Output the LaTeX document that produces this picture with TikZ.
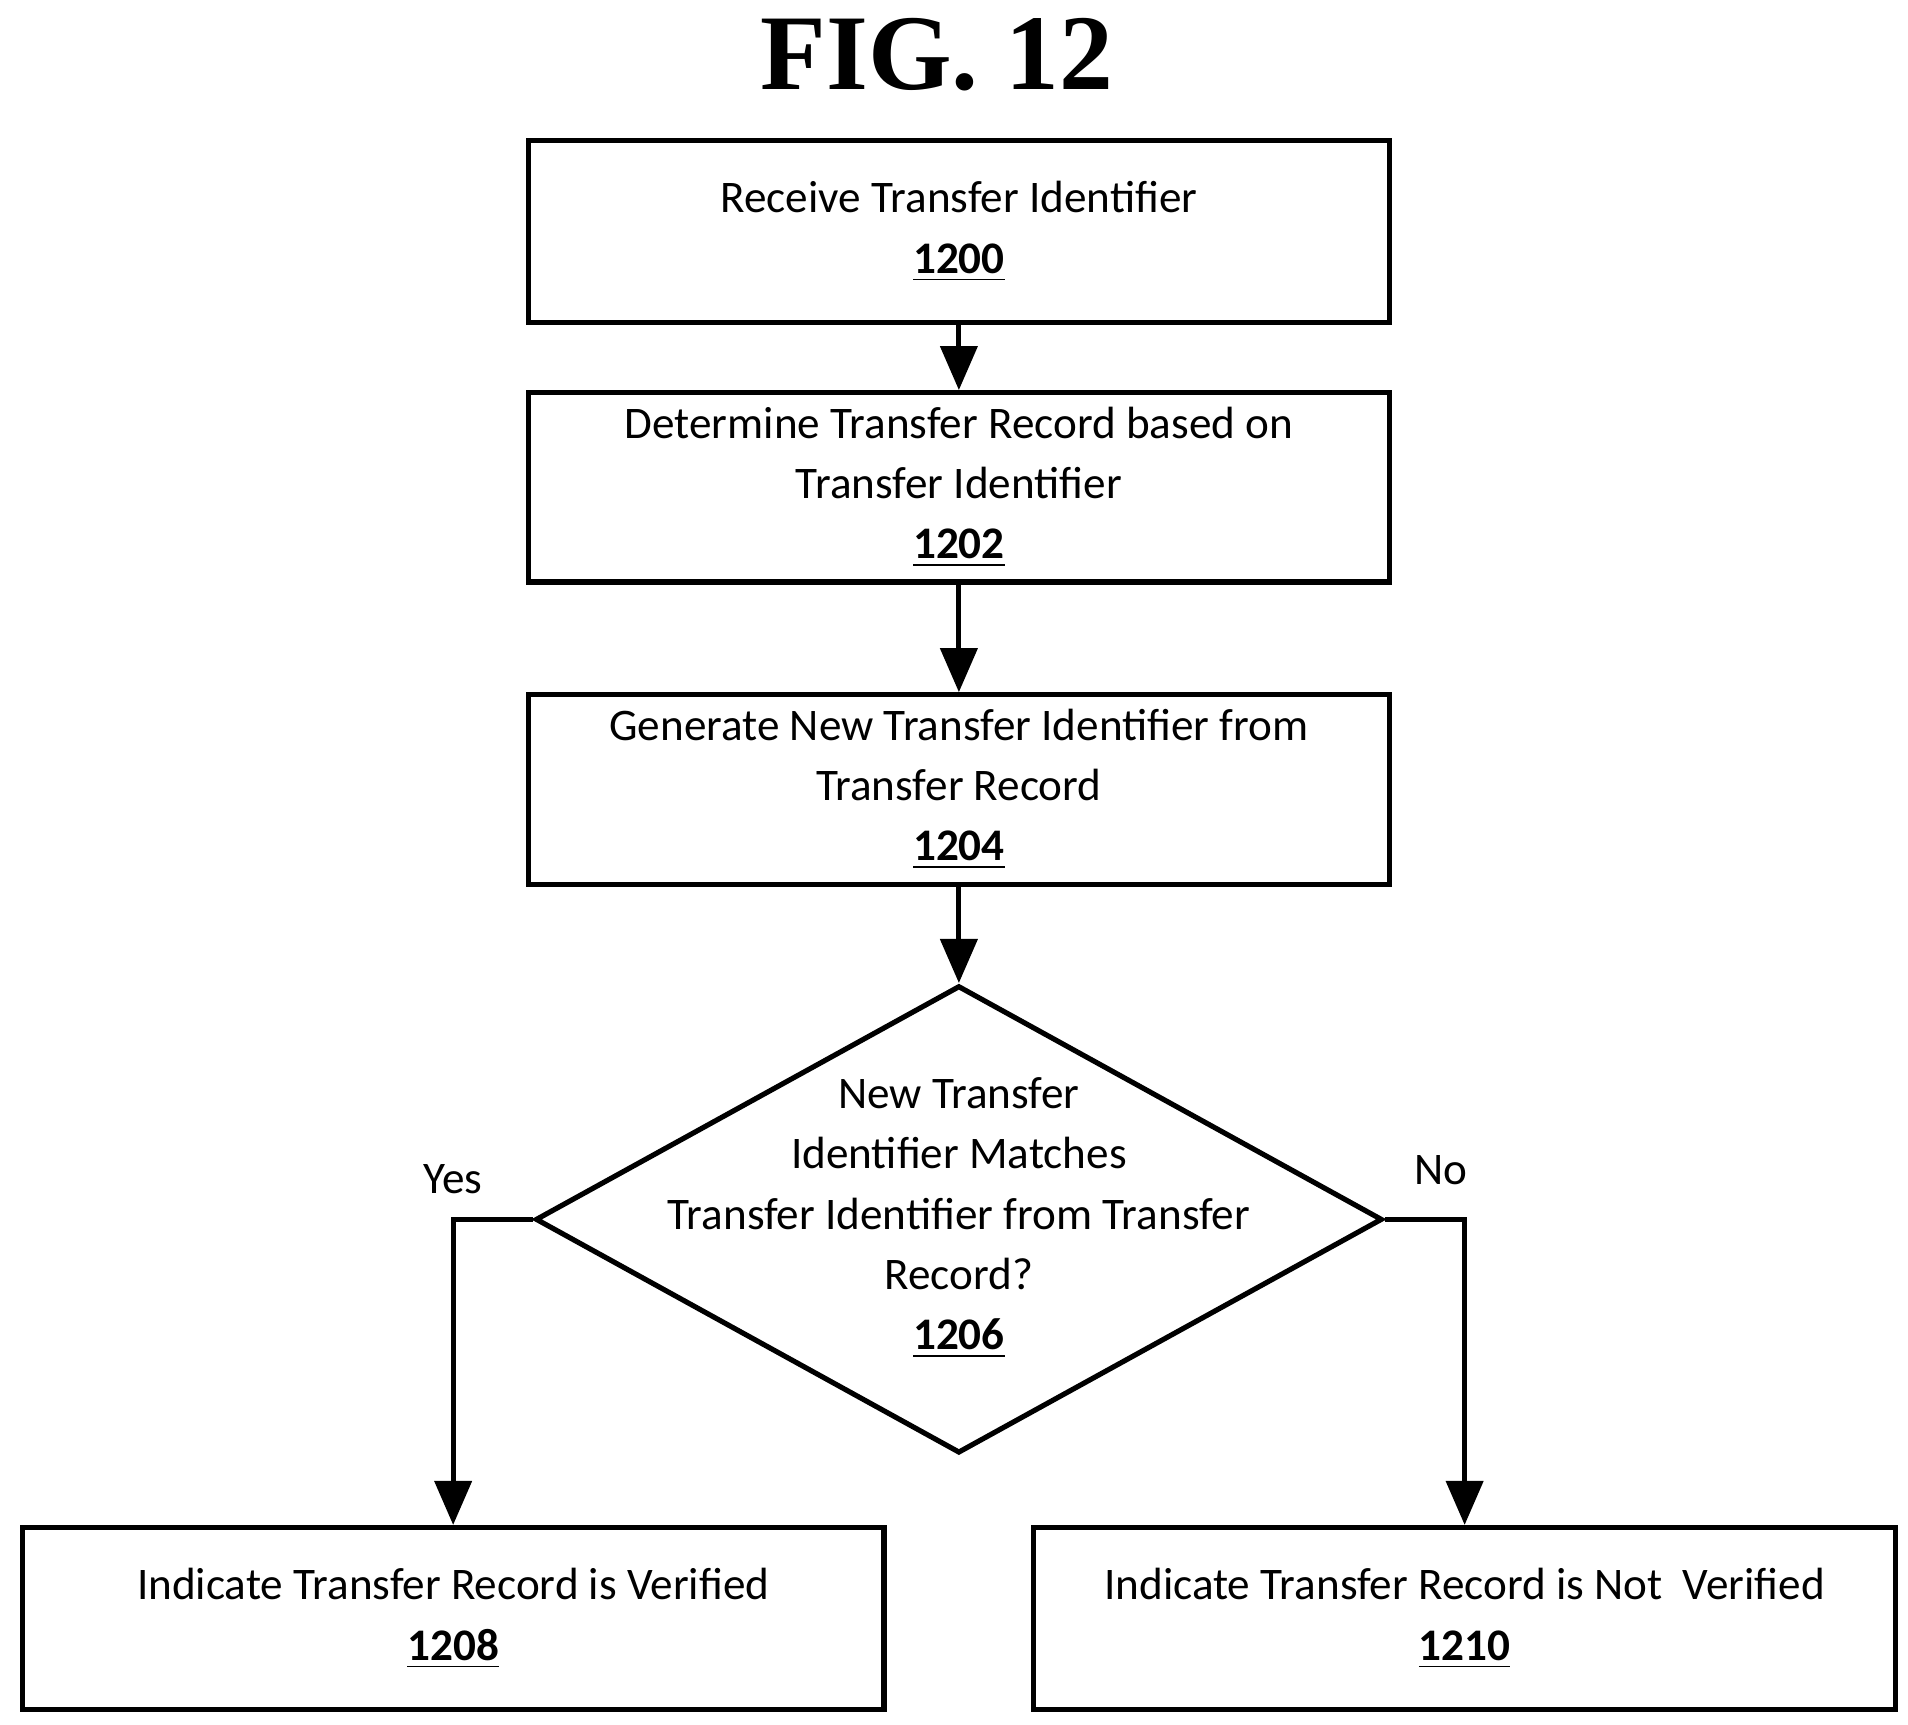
\documentclass[tikz,border=0pt]{standalone}
\usepackage{fontspec}
\setmainfont{Carlito}
\newfontfamily\figfont{Liberation Serif}
\usetikzlibrary{arrows.meta,shapes.geometric}

\tikzset{%
  step box/.style={
    rectangle,
    draw,
    line width=1.2pt,
    minimum width=7.04cm,
    minimum height=1.49cm,
    align=center,
    font=\fontsize{10.5pt}{14pt}\selectfont
  },
  decision/.style={
    diamond,
    draw,
    line width=1.2pt,
    minimum width=6.92cm,
    minimum height=3.82cm,
    inner sep=0pt
  },
  flow/.style={
    -{Triangle[width=0.3cm,length=0.36cm]},
    line width=1.2pt
  },
}
\newcommand{\refnum}[1]{\underline{\textbf{#1}}}

\begin{document}
\begin{tikzpicture}[x=0.01cm, y=0.01cm]
\useasboundingbox (0,0) rectangle (1560,1410);

% Titel
\node [font=\figfont\bfseries\fontsize{25pt}{25pt}\selectfont] (title) at (766,1365) {FIG. 12};

% Schritte
\node [step box] (receive) at (784,1220.5) {Receive Transfer Identifier\\\refnum{1200}};
\node [step box] (determine) at (784,1011.5) {Determine Transfer Record based on\\Transfer Identifier\\\refnum{1202}};
\node [step box] (generate) at (784,764.5) {Generate New Transfer Identifier from\\Transfer Record\\\refnum{1204}};

\node [decision] (match) at (784,413) {};
\node [align=center, font=\fontsize{10.5pt}{14pt}\selectfont] (match-text) at (784,414)
  {New Transfer\\Identifier Matches\\Transfer Identifier from Transfer\\Record?\\\refnum{1206}};

\node [step box] (verified) at (370.5,86.5) {Indicate Transfer Record is Verified\\\refnum{1208}};
\node [step box] (notverified) at (1197.5,86.5) {Indicate Transfer Record is Not\ \ Verified\\\refnum{1210}};

% Verbindungen
\draw [flow] (receive) -- (determine);
\draw [flow] (determine) -- (generate);
\draw [flow] (generate) -- (match.north);
\draw [flow] (match.west) -| (verified.north)
  node [pos=0.5, above=2pt, font=\fontsize{10.5pt}{14pt}\selectfont] {Yes};
\draw [flow] (match.east) -| (notverified.north)
  node [pos=0.35, above=4pt, font=\fontsize{10.5pt}{14pt}\selectfont] {No};

\end{tikzpicture}
\end{document}
